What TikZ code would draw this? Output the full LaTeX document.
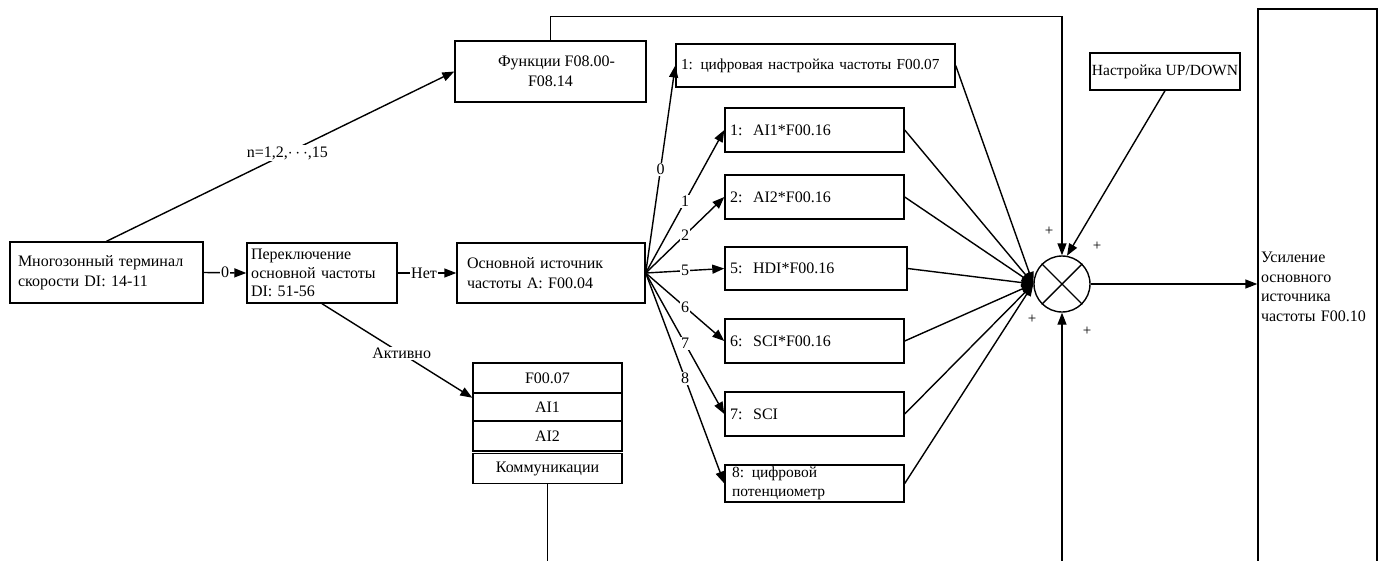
\documentclass[tikz,border=0pt]{standalone}
\usepackage{fontspec}
\setmainfont{Liberation Serif}
\usetikzlibrary{arrows.meta}
\begin{document}
\begin{tikzpicture}[x=1pt,y=-1pt,
  box/.style={draw, line width=1.4pt, inner ysep=0pt, align=left, font=\fontsize{16}{19.5}\selectfont},
  cbox/.style={draw, line width=1.4pt, inner sep=0pt, align=center, font=\fontsize{16}{19.5}\selectfont},
  arr/.style={-{Triangle[length=12pt,width=9pt]}, line width=1.4pt},
  ln/.style={line width=1.4pt},
  lab/.style={fill=white, inner sep=1pt, font=\fontsize{16}{18}\selectfont},
  plus/.style={font=\fontsize{15}{15}\selectfont, inner sep=0pt}]
\useasboundingbox (0,0) rectangle (1385,560);

% left chain
\node[box, inner xsep=8pt, text width=177pt, minimum height=61pt] (A) at (106.5,272.5)
  {Многозонный терминал\\скорости DI: 14-11};
\node[box, inner xsep=4pt, text width=142pt, minimum height=60pt, font=\fontsize{16}{18.5}\selectfont] (B) at (322,273)
  {Переключение\\основной частоты\\DI: 51-56};
\node[box, inner xsep=10pt, text width=168pt, minimum height=60pt] (C) at (551,273)
  {Основной источник\\частоты A: F00.04};
\node[cbox, minimum width=191pt, minimum height=61pt] (D) at (550.5,71.5)
  {\hspace*{12pt}Функции F08.00-\\F08.14};

% stack
\node[cbox, minimum width=149pt, minimum height=30pt] (s1) at (547.5,378) {F00.07};
\node[cbox, minimum width=149pt, minimum height=28pt] (s2) at (547.5,407) {AI1};
\node[cbox, minimum width=149pt, minimum height=30pt] (s3) at (547.5,436) {AI2};
\node[cbox, minimum width=149pt, minimum height=30pt] (s4) at (547.5,468.5) {Коммуникации};
\coordinate (kbot) at (547.5,563);

% right boxes
\node[box, inner xsep=5pt, text width=269pt, minimum height=43pt, font=\fontsize{15.3}{18}\selectfont] (f1) at (815.5,65.5)
  {1: цифровая настройка частоты F00.07};
\node[box, inner xsep=5pt, text width=169pt, minimum height=44pt] (b1) at (814.5,130) {1:\ \ AI1*F00.16};
\node[box, inner xsep=5pt, text width=169pt, minimum height=44pt] (b2) at (814.5,197) {2:\ \ AI2*F00.16};
\node[box, inner xsep=5pt, text width=172pt, minimum height=43pt] (b5) at (816,268.5) {5:\ \ HDI*F00.16};
\node[box, inner xsep=5pt, text width=169pt, minimum height=44pt] (b6) at (814.5,341) {6:\ \ SCI*F00.16};
\node[box, inner xsep=5pt, text width=169pt, minimum height=44pt] (b7) at (814.5,414) {7:\ \ SCI};
\node[box, inner xsep=7pt, text width=165pt, minimum height=37pt, font=\fontsize{15.5}{19}\selectfont] (b8) at (814.5,483.5)
  {8: цифровой\\потенциометр};

\node[cbox, minimum width=150pt, minimum height=37pt, font=\fontsize{15.5}{18}\selectfont] (ud) at (1165,71.5) {Настройка UP/DOWN};

\node[box, inner xsep=3pt, text width=113pt, minimum height=556pt] (big) at (1317.5,287)
  {Усиление\\основного\\источника\\частоты F00.10};

% summing junction
\node[draw, circle, line width=1.4pt, minimum size=56pt, inner sep=0pt] (sum) at (1062,284) {};
\draw[ln] (sum.north east) -- (sum.south west);
\draw[ln] (sum.north west) -- (sum.south east);
\coordinate (bot) at (1062,563);

\node[plus] (p1) at (1049,231) {+};
\node[plus] (p2) at (1097,246) {+};
\node[plus] (p3) at (1032,319) {+};
\node[plus] (p4) at (1087,331) {+};

% connectors
\draw[arr] (A.east) -- node[lab]{0} (B.west);
\draw[arr] (B.east) -- node[lab, pos=0.45]{Нет} (C.west);
\draw[arr] (A.north) -- node[lab, pos=0.52]{n=1,2,$\cdots$,15} (D.west);
\draw[arr] (B.south) -- node[lab, pos=0.53]{Активно} (s2.173);
\draw[ln] (s4.south) -- (kbot);

\draw[arr] (C.east) -- node[lab]{0} (f1.west);
\draw[arr] (C.east) -- node[lab]{1} (b1.west);
\draw[arr] (C.east) -- node[lab]{2} (b2.west);
\draw[arr] (C.east) -- node[lab]{5} (b5.west);
\draw[arr] (C.east) -- node[lab]{6} (b6.west);
\draw[arr] (C.east) -- node[lab]{7} (b7.west);
\draw[arr] (C.east) -- node[lab]{8} (b8.west);

\draw[arr] (f1.east) -- (sum.west);
\draw[arr] (b1.east) -- (sum.west);
\draw[arr] (b2.east) -- (sum.west);
\draw[arr] (b5.east) -- (sum.west);
\draw[arr] (b6.east) -- (sum.west);
\draw[arr] (b7.east) -- (sum.west);
\draw[arr] (b8.east) -- (sum.west);

\draw[arr] (D.north) -- ++(0,-24) -| (sum.north);
\draw[arr] (ud.south) -- (sum.80);
\draw[arr] (bot) -- (sum.south);
\draw[arr] (sum.east) -- (sum.east -| big.west);
\end{tikzpicture}
\end{document}
